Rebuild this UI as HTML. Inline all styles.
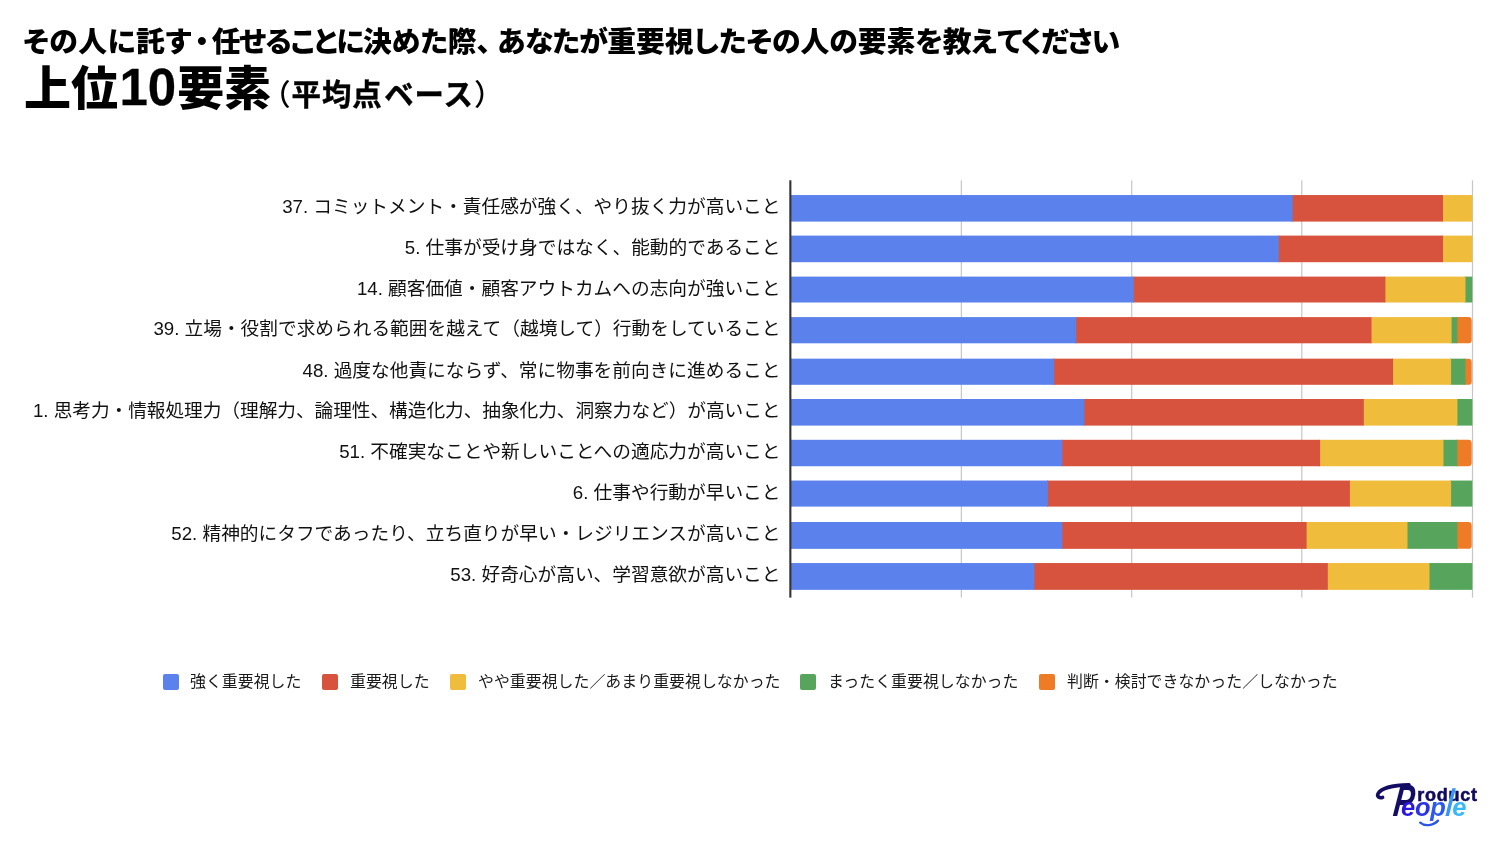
<!DOCTYPE html>
<html lang="ja">
<head>
<meta charset="utf-8">
<title>上位10要素</title>
<style>
html,body{margin:0;padding:0;background:#fff;}
body{width:1500px;height:844px;position:relative;overflow:hidden;font-family:"Liberation Sans","Noto Sans CJK JP",sans-serif;color:#000;}
.t1{position:absolute;left:23px;top:22px;font-size:28.8px;font-weight:900;line-height:40px;white-space:nowrap;font-feature-settings:"palt";letter-spacing:0px;}
.t1 .s0{letter-spacing:.6px;}
.t1 .d{margin:0 2.6px 0 2.8px;}
.t1 .c{margin-right:6.2px;}
.t1 .s1{letter-spacing:-1.2px;}
.t1 .s2{letter-spacing:-.75px;}
.t1 .e{letter-spacing:-1.1px;}
.t2{position:absolute;left:24px;top:56px;font-size:47px;font-weight:900;line-height:64px;white-space:nowrap;}
.t2 i{font-style:normal;font-size:51px;margin:0 1px 0 1.4px;-webkit-text-stroke:.3px #000;}
.t2 small b{font-weight:700;letter-spacing:1px;margin-left:1.5px;}
.t2 small u{text-decoration:none;font-weight:500;-webkit-text-stroke:0;}
.t2 small{font-weight:700;-webkit-text-stroke:.45px #000;font-size:29.4px;letter-spacing:1px;margin-left:-10px;position:relative;top:-.5px;}
.chart{position:absolute;left:0;top:0;}
.lab{position:absolute;right:719.5px;height:30px;line-height:30px;font-size:18.7px;font-weight:400;white-space:nowrap;color:#111;text-align:right;}
.sw{position:absolute;top:674px;width:16px;height:15.6px;border-radius:2px;margin-left:-.6px;}
.lt{position:absolute;top:668.5px;height:26px;line-height:26px;font-size:15.93px;font-weight:400;color:#1a1a1a;white-space:nowrap;}
.logo{position:absolute;left:0;top:0;width:1500px;height:844px;pointer-events:none;}
.lg{position:absolute;left:1360px;top:770px;}
.bp{position:absolute;left:1390.5px;top:776px;font:italic 700 45px/50px "Liberation Sans",sans-serif;color:#130d66;transform-origin:0 100%;transform:skewX(-7deg) scaleX(.68);}
.ro{position:absolute;left:1417.3px;top:783px;font:700 18px/24px "Liberation Sans",sans-serif;letter-spacing:.75px;color:#110b5e;-webkit-text-stroke:.55px #110b5e;}
.eo{position:absolute;left:1401px;top:792px;font:italic 700 25.5px/30px "Liberation Sans",sans-serif;letter-spacing:-.3px;white-space:nowrap;}
.eo .a{color:#2a18dc}.eo .b{color:#2b33e6}.eo .c{color:#2d5aee}.eo .e{color:#37b8fa}
.eo .l{color:#3596f6;display:inline-block;transform-origin:30% 82%;transform:scaleY(1.5) skewX(-10deg);}
</style>
</head>
<body>
<div class="t1"><span class="s0">その人に託す</span><span class="d">・</span><span class="s1">任せることに</span>決めた際<span class="c">、</span><span class="s2">あなたが</span>重要視したその人の要素を教え<span class="e">てください</span></div>
<div class="t2">上位<i>10</i>要素<small><u>（</u>平均点<b>ベース</b><u>）</u></small></div>
<svg class="chart" width="1500" height="844" viewBox="0 0 1500 844">
<rect x="960.75" y="180.3" width="1.2" height="417.3" fill="#c6c6c6"/>
<rect x="1131.10" y="180.3" width="1.2" height="417.3" fill="#c6c6c6"/>
<rect x="1301.20" y="180.3" width="1.2" height="417.3" fill="#c6c6c6"/>
<rect x="1471.90" y="180.3" width="1.2" height="417.3" fill="#c6c6c6"/>
<rect x="1442.00" y="195.05" width="30.30" height="26.55" fill="#efbd3b"/>
<rect x="1291.70" y="195.05" width="151.30" height="26.55" fill="#d8533d"/>
<rect x="790.90" y="195.05" width="501.80" height="26.55" fill="#5b82ec"/>
<rect x="1442.00" y="235.60" width="30.30" height="26.60" fill="#efbd3b"/>
<rect x="1277.80" y="235.60" width="165.20" height="26.60" fill="#d8533d"/>
<rect x="790.90" y="235.60" width="487.90" height="26.60" fill="#5b82ec"/>
<rect x="1464.50" y="276.60" width="7.80" height="25.90" fill="#57a55c"/>
<rect x="1384.40" y="276.60" width="81.10" height="25.90" fill="#efbd3b"/>
<rect x="1132.80" y="276.60" width="252.60" height="25.90" fill="#d8533d"/>
<rect x="790.90" y="276.60" width="342.90" height="25.90" fill="#5b82ec"/>
<path d="M1456.40 317.10H1468.30Q1471.70 317.10 1471.70 320.50V339.90Q1471.70 343.30 1468.30 343.30H1456.40Z" fill="#ee7c27"/>
<rect x="1450.60" y="317.10" width="6.80" height="26.20" fill="#57a55c"/>
<rect x="1370.50" y="317.10" width="81.10" height="26.20" fill="#efbd3b"/>
<rect x="1075.20" y="317.10" width="296.30" height="26.20" fill="#d8533d"/>
<rect x="790.90" y="317.10" width="285.30" height="26.20" fill="#5b82ec"/>
<path d="M1464.50 358.65H1468.30Q1471.70 358.65 1471.70 362.05V381.40Q1471.70 384.80 1468.30 384.80H1464.50Z" fill="#ee7c27"/>
<rect x="1450.10" y="358.65" width="15.40" height="26.15" fill="#57a55c"/>
<rect x="1392.10" y="358.65" width="59.00" height="26.15" fill="#efbd3b"/>
<rect x="1053.10" y="358.65" width="340.00" height="26.15" fill="#d8533d"/>
<rect x="790.90" y="358.65" width="263.20" height="26.15" fill="#5b82ec"/>
<rect x="1456.40" y="399.00" width="15.90" height="26.60" fill="#57a55c"/>
<rect x="1362.80" y="399.00" width="94.60" height="26.60" fill="#efbd3b"/>
<rect x="1083.40" y="399.00" width="280.40" height="26.60" fill="#d8533d"/>
<rect x="790.90" y="399.00" width="293.50" height="26.60" fill="#5b82ec"/>
<path d="M1456.40 439.80H1468.30Q1471.70 439.80 1471.70 443.20V462.85Q1471.70 466.25 1468.30 466.25H1456.40Z" fill="#ee7c27"/>
<rect x="1442.50" y="439.80" width="14.90" height="26.45" fill="#57a55c"/>
<rect x="1319.10" y="439.80" width="124.40" height="26.45" fill="#efbd3b"/>
<rect x="1061.30" y="439.80" width="258.80" height="26.45" fill="#d8533d"/>
<rect x="790.90" y="439.80" width="271.40" height="26.45" fill="#5b82ec"/>
<rect x="1450.10" y="480.55" width="22.20" height="26.05" fill="#57a55c"/>
<rect x="1348.90" y="480.55" width="102.20" height="26.05" fill="#efbd3b"/>
<rect x="1046.90" y="480.55" width="303.00" height="26.05" fill="#d8533d"/>
<rect x="790.90" y="480.55" width="257.00" height="26.05" fill="#5b82ec"/>
<path d="M1456.40 522.00H1468.30Q1471.70 522.00 1471.70 525.40V545.45Q1471.70 548.85 1468.30 548.85H1456.40Z" fill="#ee7c27"/>
<rect x="1406.50" y="522.00" width="50.90" height="26.85" fill="#57a55c"/>
<rect x="1305.60" y="522.00" width="101.90" height="26.85" fill="#efbd3b"/>
<rect x="1061.30" y="522.00" width="245.30" height="26.85" fill="#d8533d"/>
<rect x="790.90" y="522.00" width="271.40" height="26.85" fill="#5b82ec"/>
<rect x="1428.50" y="563.05" width="43.80" height="26.80" fill="#57a55c"/>
<rect x="1326.80" y="563.05" width="102.70" height="26.80" fill="#efbd3b"/>
<rect x="1033.40" y="563.05" width="294.40" height="26.80" fill="#d8533d"/>
<rect x="790.90" y="563.05" width="243.50" height="26.80" fill="#5b82ec"/>
<rect x="789.3" y="180.3" width="2.1" height="417.3" fill="#333"/>
</svg>
<div class="lab" style="top:192.32px">37. コミットメント・責任感が強く、やり抜く力が高いこと</div>
<div class="lab" style="top:232.90px">5. 仕事が受け身ではなく、能動的であること</div>
<div class="lab" style="top:273.55px">14. 顧客価値・顧客アウトカムへの志向が強いこと</div>
<div class="lab" style="top:314.20px">39. 立場・役割で求められる範囲を越えて（越境して）行動をしていること</div>
<div class="lab" style="top:355.73px">48. 過度な他責にならず、常に物事を前向きに進めること</div>
<div class="lab" style="top:396.30px;letter-spacing:-.05px">1. 思考力・情報処理力（理解力、論理性、構造化力、抽象化力、洞察力など）が高いこと</div>
<div class="lab" style="top:437.02px">51. 不確実なことや新しいことへの適応力が高いこと</div>
<div class="lab" style="top:477.58px">6. 仕事や行動が早いこと</div>
<div class="lab" style="top:519.42px">52. 精神的にタフであったり、立ち直りが早い・レジリエンスが高いこと</div>
<div class="lab" style="top:560.45px">53. 好奇心が高い、学習意欲が高いこと</div>
<div class="sw" style="left:164px;background:#5b82ec"></div><div class="lt" style="left:190px">強く重要視した</div>
<div class="sw" style="left:323px;background:#d8533d"></div><div class="lt" style="left:350px">重要視した</div>
<div class="sw" style="left:451px;background:#efbd3b"></div><div class="lt" style="left:478px">やや重要視した／あまり重要視しなかった</div>
<div class="sw" style="left:801px;background:#57a55c"></div><div class="lt" style="left:828px">まったく重要視しなかった</div>
<div class="sw" style="left:1040px;background:#ee7c27"></div><div class="lt" style="left:1067px">判断・検討できなかった／しなかった</div>
<div class="logo" role="img" aria-label="Product People">
<svg class="lg" width="140" height="74" viewBox="1360 770 140 74">
<path d="M1382.6 797.4C1379.8 798.6 1376.4 796.6 1378.2 793.4C1381 788.6 1392 785.2 1409 784.9" fill="none" stroke="#120c62" stroke-width="3.6" stroke-linecap="round"/>
<path d="M1420.2 822.6C1424.5 826.4 1433 826 1438 820.6" fill="none" stroke="#2c56e6" stroke-width="2.3" stroke-linecap="round"/>
</svg>
<span class="bp">P</span><span class="ro">roduct</span><span class="eo"><span class="a">e</span><span class="b">o</span><span class="c">p</span><span class="l">l</span><span class="e">e</span></span>
</div>
</body>
</html>
